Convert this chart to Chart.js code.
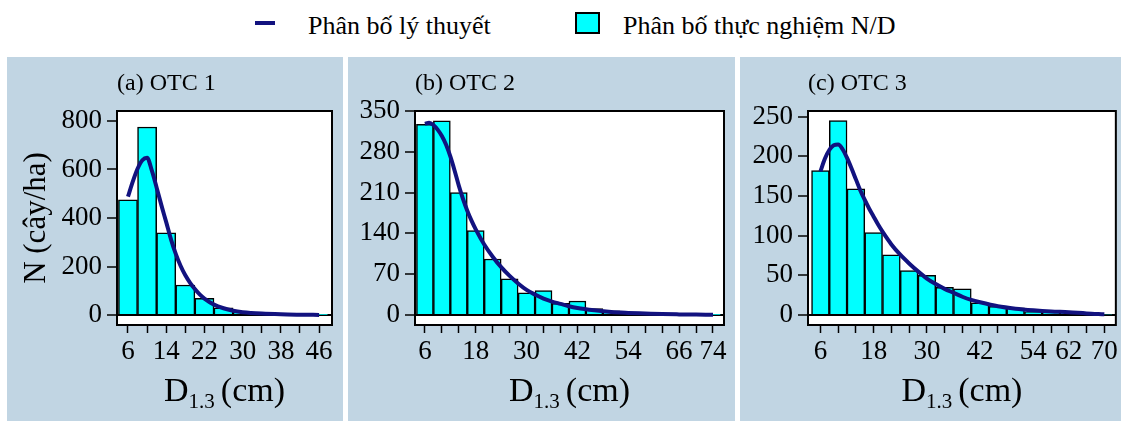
<!DOCTYPE html>
<html><head><meta charset="utf-8">
<script src="https://cdn.jsdelivr.net/npm/chart.js@4.4.0/dist/chart.umd.min.js"></script>
<style>
body{margin:0;background:#fff;width:1121px;height:421px;position:relative;overflow:hidden;font-family:"Liberation Serif","Times New Roman",serif;}
.panel{position:absolute;top:57px;height:364px;background:#c1d5e3;}
.panel canvas{position:absolute;left:0;top:0;}
.leg{position:absolute;font-size:26px;line-height:28px;color:#000;white-space:nowrap;}
</style></head><body>
<div style="position:absolute;left:255px;top:21px;width:20px;height:4px;background:#12127f"></div>
<div class="leg" style="left:308px;top:12px">Phân bố lý thuyết</div>
<div style="position:absolute;left:575px;top:12px;width:21px;height:18px;background:#00ffff;border:2px solid #000"></div>
<div class="leg" style="left:623px;top:12px">Phân bố thực nghiệm N/D</div>
<div class="panel" style="left:7px;width:336px"><canvas id="c1" width="336" height="364"></canvas></div>
<div class="panel" style="left:348px;width:387px"><canvas id="c2" width="387" height="364"></canvas></div>
<div class="panel" style="left:740px;width:381px"><canvas id="c3" width="381" height="364"></canvas></div>
<script>
// ---- Data ----
// (a) OTC 1
const binCenters1 = [6,10,14,18,22,26,30,34,38,42,46];
const observed1   = [475,775,339,124,69,30,14,8,7,3,1];
const curveX1 = [6,7,8,9,10,11,12,13,14,15,16,17,18,19,20,21,22,24,26,28,30,34,38,42,46];
const curveY1 = [488,550,603,638,648,595,525,452,383,312,252,203,164,133,107,85,68,43,28,18,12,6,3,1.5,0.5];
const xTicks1  = [6,10,14,18,22,26,30,34,38,42,46];
const xLabels1 = [6,14,22,30,38,46];
const yTicks1  = [0,200,400,600,800];

// (b) OTC 2
const binCenters2 = [6,10,14,18,22,26,30,34,38,42,46,50,54,58,62,66,70,74];
const observed2   = [327,333,210,145,96,62,38,42,20,24,11,7,4,3.5,3,1,0.5,0.5];
const curveX2 = [6,7,8,9,10,11,12,13,14,15,16,17,18,20,22,24,26,28,30,32,34,36,38,40,42,46,50,54,58,62,66,70,74];
const curveY2 = [328,330,326,318,307,292,272,248,222,199,179,162,147,121,100,82,67,54,43,35,28,23,19,15,12,8,5,3.5,2.5,1.5,1,0.7,0.5];
const xTicks2  = [6,10,14,18,22,26,30,34,38,42,46,50,54,58,62,66,70,74];
const xLabels2 = [6,18,30,42,54,66,74];
const yTicks2  = [0,70,140,210,280,350];

// (c) OTC 3
const binCenters3 = [6,10,14,18,22,26,30,34,38,42,46,50,54,58,62,66,70];
const observed3   = [182,245,159,104,76,56,50,35,33,15.5,11,9,4,5,4,3,1];
const curveX3 = [6,7,8,9,10,11,12,13,14,15,16,17,18,19,20,22,24,26,28,30,32,34,36,38,40,42,46,50,54,58,62,66,70];
const curveY3 = [181,197,208,214,215,209,198,185,171,157,145,134,124,114,105,89,76,65,55,46,39,33,28,23,19,16,11,8,6,4.5,3.5,2,1];
const xTicks3  = [6,10,14,18,22,26,30,34,38,42,46,50,54,58,62,66,70];
const xLabels3 = [6,18,30,42,54,62,70];
const yTicks3  = [0,50,100,150,200,250];

const FONT = '"Liberation Serif", serif';
const LINE_COLOR = '#12127f';
Chart.defaults.font.family = FONT;
Chart.defaults.color = '#000';

const panelPlugin = {
  id: 'panel',
  beforeDraw(chart) {
    const {ctx, chartArea: a} = chart;
    ctx.save();
    ctx.fillStyle = '#ffffff';
    ctx.fillRect(a.left, a.top, a.right - a.left, a.bottom - a.top);
    ctx.restore();
  },
  afterDraw(chart, args, opts) {
    const {ctx, chartArea: a} = chart;
    ctx.save();
    ctx.strokeStyle = '#000';
    ctx.lineWidth = 2;
    ctx.strokeRect(a.left, a.top, a.right - a.left, a.bottom - a.top);
    ctx.fillStyle = '#000';
    // panel title
    ctx.font = '24px ' + FONT;
    ctx.textAlign = 'left';
    ctx.textBaseline = 'alphabetic';
    ctx.fillText(opts.title, a.left, 32.5);
    // x title with subscript
    const big = '34px ' + FONT, sub = '21px ' + FONT;
    ctx.font = big; const wD = ctx.measureText('D').width;
    const wR = ctx.measureText('(cm)').width;
    ctx.font = sub; const wS = ctx.measureText('1.3').width;
    const gap = 6;
    let x0 = (a.left + a.right) / 2 - (wD + wS + gap + wR) / 2;
    const base = 344;
    ctx.font = big; ctx.fillText('D', x0, base);
    ctx.font = sub; ctx.fillText('1.3', x0 + wD, base + 7);
    ctx.font = big; ctx.fillText('(cm)', x0 + wD + wS + gap, base);
    // y title
    if (opts.yTitle) {
      ctx.translate(38, (a.top + a.bottom) / 2);
      ctx.rotate(-Math.PI / 2);
      ctx.font = '31px ' + FONT;
      ctx.textAlign = 'center';
      ctx.fillText(opts.yTitle, 0, 0);
    }
    ctx.restore();
  }
};

function makeChart(id, centers, obs, cx, cy, xTicks, xLabels, yTicks, xMin, xMax, yMin, yMax, leftW, padRight, title, yTitle) {
  new Chart(document.getElementById(id), {
    type: 'bar',
    data: {
      datasets: [
        {
          type: 'line',
          label: 'Phân bố lý thuyết',
          data: cx.map((v, i) => ({x: v, y: cy[i]})),
          borderColor: LINE_COLOR,
          borderWidth: 4,
          pointRadius: 0,
          cubicInterpolationMode: 'monotone',
          fill: false,
          order: 0
        },
        {
          type: 'bar',
          label: 'Phân bố thực nghiệm N/D',
          data: centers.map((v, i) => ({x: v, y: obs[i]})),
          backgroundColor: '#00ffff',
          borderColor: '#000000',
          borderWidth: 1.5,
          barPercentage: 1,
          categoryPercentage: 1,
          grouped: false,
          order: 1
        }
      ]
    },
    options: {
      responsive: false,
      animation: false,
      devicePixelRatio: 1,
      layout: {padding: {top: 54, left: 0, right: padRight, bottom: 0}},
      plugins: {legend: {display: false}, tooltip: {enabled: false}, panel: {title, yTitle}},
      scales: {
        x: {
          type: 'linear', min: xMin, max: xMax, offset: false,
          afterBuildTicks: s => { s.ticks = xTicks.map(v => ({value: v})); },
          afterFit: s => { s.height = 96; },
          ticks: {autoSkip: false, maxRotation: 0, minRotation: 0, padding: 3, color: '#000',
            font: {family: FONT, size: 27},
            callback: v => xLabels.includes(v) ? String(v) : ''},
          grid: {display: true, offset: false, drawOnChartArea: false, tickColor: '#000', tickLength: 8, tickWidth: 1.5},
          border: {display: true, color: '#000', width: 2}
        },
        y: {
          type: 'linear', min: yMin, max: yMax,
          afterBuildTicks: s => { s.ticks = yTicks.map(v => ({value: v})); },
          afterFit: s => { s.width = leftW; },
          ticks: {padding: 5, color: '#000', font: {family: FONT, size: 27}},
          grid: {color: c => (c.tick && c.tick.value === 0) ? '#000' : 'rgba(0,0,0,0)', lineWidth: 2,
            tickColor: '#000', tickLength: 10, tickWidth: 1.5},
          border: {display: true, color: '#000', width: 2}
        }
      }
    },
    plugins: [panelPlugin]
  });
}

makeChart('c1', binCenters1, observed1, curveX1, curveY1, xTicks1, xLabels1, yTicks1, 3.7, 48.7, -41, 841, 110, 11, '(a) OTC 1', 'N (cây/ha)');
makeChart('c2', binCenters2, observed2, curveX2, curveY2, xTicks2, xLabels2, yTicks2, 3.66, 76.6, -17.2, 350, 67, 11, '(b) OTC 2', null);
makeChart('c3', binCenters3, observed3, curveX3, curveY3, xTicks3, xLabels3, yTicks3, 3.2, 72.6, -12.6, 257.2, 68, 5, '(c) OTC 3', null);
</script>
</body></html>
